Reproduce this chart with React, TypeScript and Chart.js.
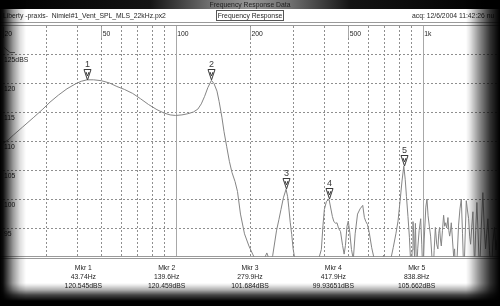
import React, { useEffect, useRef } from "react";
import { Chart, registerables } from "chart.js";

Chart.register(...registerables);

// ---- data ----
const freqHz = [
  20, 21, 22, 24, 26.5, 29, 31, 33.5, 36.3, 39.5, 41.5, 43.74, 46.5, 50, 54, 57.8, 62, 67, 72, 77.6,
  84, 90, 95, 100, 106, 112, 118, 123, 127, 131, 135, 139.6, 143, 147, 150, 153.9, 157, 161, 165, 169,
  174, 178, 183, 190, 198, 205, 212, 220, 228, 234, 240, 247, 256, 262, 267, 273, 279.9, 284, 287, 291,
  295, 299, 305, 315, 330, 345, 360, 375, 389, 395, 400, 408, 417.9, 426, 431, 437, 445, 450, 457, 465,
  474, 481, 487, 494, 500, 507, 515, 524, 533, 545, 558, 572, 581, 589, 598, 608, 622, 637, 655, 675,
  695, 715, 736, 760, 780, 795, 810, 825, 838.8, 850, 860, 872, 884, 893, 900, 907, 914, 920, 927, 935,
  945, 955, 968, 982, 992, 1003, 1015, 1030, 1041, 1052, 1065, 1077, 1090, 1101, 1113, 1126, 1140, 1153, 1162, 1171,
  1180, 1190, 1203, 1216, 1228, 1239, 1252, 1266, 1276, 1286, 1296, 1306, 1320, 1335, 1347, 1360, 1369, 1380, 1398, 1416,
  1434, 1450, 1469, 1485, 1502, 1518, 1535, 1550, 1564, 1580, 1598, 1610, 1623, 1640, 1658, 1680, 1700, 1725, 1753, 1775,
  1798, 1818, 1837, 1865, 1896, 1925, 1955, 1980, 2000,
];
const splDb = [
  109.6, 110.2, 111.0, 112.4, 114.0, 115.5, 116.7, 117.9, 119.0, 119.9, 120.3, 120.545, 120.55, 120.4, 120.0, 119.4, 118.9, 118.2, 117.3, 116.3,
  115.4, 114.8, 114.5, 114.4, 114.5, 114.7, 115.0, 115.5, 116.4, 117.7, 119.2, 120.459, 119.9, 118.6, 116.8, 114.1, 111.6, 109.0, 106.5, 104.6,
  103.0, 101.3, 97.4, 94.0, 91.9, 90.5, 89.2, 88.3, 89.6, 90.7, 89.4, 90.2, 94.5, 96.5, 98.2, 100.2, 101.684, 100.4, 98.6, 96.0,
  93.9, 91.4, 89.2, 88.0, 88.4, 87.8, 88.6, 88.9, 91.3, 95.5, 98.2, 99.6, 99.937, 98.1, 97.0, 96.1, 95.8, 95.9, 94.9, 94.4,
  92.0, 90.5, 92.0, 95.3, 96.2, 94.2, 91.3, 89.6, 94.0, 97.4, 98.3, 98.9, 96.8, 96.1, 95.6, 94.2, 91.6, 89.6, 88.2, 88.9,
  90.3, 88.4, 88.8, 91.6, 94.1, 96.2, 99.6, 103.1, 105.662, 103.4, 100.4, 97.0, 93.4, 89.6, 86.5, 91.2, 96.1, 94.0, 90.0, 95.8,
  87.0, 91.4, 94.6, 96.6, 92.1, 86.5, 93.1, 98.6, 100.0, 97.1, 95.2, 93.6, 90.1, 86.2, 91.1, 95.1, 92.2, 91.4, 94.1, 95.1,
  93.1, 91.9, 94.6, 97.2, 95.3, 95.9, 95.0, 96.8, 94.6, 93.6, 94.5, 95.9, 93.1, 90.1, 91.4, 87.1, 86.0, 90.2, 95.5, 98.3,
  100.0, 94.1, 86.4, 93.1, 99.7, 98.1, 96.6, 93.6, 92.2, 95.1, 97.8, 93.1, 88.1, 94.6, 99.4, 93.1, 87.0, 94.6, 101.1, 95.1,
  91.4, 94.1, 96.6, 91.1, 87.0, 92.6, 95.1, 91.2, 93.0,
];

const markerFreq = [43.74, 139.6, 279.9, 417.9, 838.8];
const markerDb = [120.545, 120.459, 101.684, 99.93651, 105.662];
const markerNames = ["Mkr 1", "Mkr 2", "Mkr 3", "Mkr 4", "Mkr 5"];
const markerFreqText = ["43.74Hz", "139.6Hz", "279.9Hz", "417.9Hz", "838.8Hz"];
const markerDbText = ["120.545dBS", "120.459dBS", "101.684dBS", "99.93651dBS", "105.662dBS"];

const xTickValues = [20, 50, 100, 200, 500, 1000];
const xTickLabels = ["20", "50", "100", "200", "500", "1k"];
const xMinorGrid = [30, 40, 50, 60, 70, 80, 90, 200, 300, 400, 500, 600, 700, 800, 900];
const xMajorGrid = [100, 1000];
const yTickValues = [125, 120, 115, 110, 105, 100, 95];
const yTickLabels = ["125dBS", "120", "115", "110", "105", "100", "95"];

const titleText = "Frequency Response Data";
const headerLeft = "Liberty -praxis-  Nimiel#1_Vent_SPL_MLS_22kHz.px2";
const headerCenter = "Frequency Response";
const headerRight = "acq: 12/6/2004 11:42:26 nu";

const FONT = "8px 'Liberation Sans', Arial, sans-serif";
const NUM_FONT = "9px 'Liberation Sans', Arial, sans-serif";
const SQUEEZE = 0.85;

function narrowText(ctx: CanvasRenderingContext2D, text: string, x: number, y: number) {
  ctx.save();
  ctx.translate(x, y);
  ctx.scale(SQUEEZE, 1);
  ctx.fillText(text, 0, 0);
  ctx.restore();
}

const framePlugin = {
  id: "frame",
  beforeDraw(chart: any) {
    const { ctx, chartArea: a, scales } = chart;
    const xs = scales.x;
    const ys = scales.y;
    const W = chart.width;
    const H = chart.height;
    ctx.save();
    ctx.fillStyle = "#ffffff";
    ctx.fillRect(0, 0, W, H);

    // title bar
    const g = ctx.createLinearGradient(0, 0, W, 0);
    g.addColorStop(0, "#000");
    g.addColorStop(0.3, "#141414");
    g.addColorStop(0.42, "#707070");
    g.addColorStop(0.5, "#959595");
    g.addColorStop(0.58, "#707070");
    g.addColorStop(0.7, "#141414");
    g.addColorStop(1, "#000");
    ctx.fillStyle = g;
    ctx.fillRect(0, 0, W, 9);
    ctx.font = FONT;
    ctx.textBaseline = "middle";
    ctx.textAlign = "center";
    ctx.fillStyle = "#1e1e1e";
    narrowText(ctx, titleText, W / 2, 4.5);

    // header row
    ctx.fillStyle = "#1e1e1e";
    ctx.textAlign = "left";
    narrowText(ctx, headerLeft, 3, 15.5);
    ctx.textAlign = "center";
    narrowText(ctx, headerCenter, W / 2, 15.5);
    ctx.strokeStyle = "#555";
    ctx.lineWidth = 1;
    ctx.strokeRect(216.5, 10.5, 67, 10);
    ctx.textAlign = "left";
    narrowText(ctx, headerRight, 412, 15.5);

    // separator lines
    ctx.strokeStyle = "#9a9a9a";
    ctx.beginPath();
    ctx.moveTo(0, 22.5); ctx.lineTo(W, 22.5);
    ctx.moveTo(0, a.top + 0.5); ctx.lineTo(W, a.top + 0.5);
    ctx.moveTo(0, a.bottom - 0.5); ctx.lineTo(W, a.bottom - 0.5);
    ctx.moveTo(0, a.bottom + 1.5); ctx.lineTo(W, a.bottom + 1.5);
    ctx.stroke();

    // dotted grid
    ctx.strokeStyle = "#8f8f8f";
    ctx.setLineDash([2, 2]);
    ctx.beginPath();
    for (const v of xMinorGrid) {
      const px = Math.round(xs.getPixelForValue(v)) + 0.5;
      ctx.moveTo(px, a.top + 1);
      ctx.lineTo(px, a.bottom - 1);
    }
    for (const v of yTickValues) {
      const py = Math.round(ys.getPixelForValue(v)) + 0.5;
      ctx.moveTo(a.left, py);
      ctx.lineTo(a.right, py);
    }
    ctx.stroke();
    ctx.setLineDash([]);

    // solid decade lines
    ctx.strokeStyle = "#a8a8a8";
    ctx.beginPath();
    for (const v of xMajorGrid) {
      const px = Math.round(xs.getPixelForValue(v)) + 0.5;
      ctx.moveTo(px, a.top + 1);
      ctx.lineTo(px, a.bottom - 1);
    }
    for (const v of xTickValues) {
      const px = Math.round(xs.getPixelForValue(v)) + 0.5;
      ctx.moveTo(px, a.top + 2);
      ctx.lineTo(px, a.top + 13);
    }
    ctx.stroke();

    // reference mark
    ctx.strokeStyle = "#777";
    ctx.beginPath();
    ctx.moveTo(a.left + 1, 47.5);
    ctx.lineTo(a.left + 7, 52.5);
    ctx.lineTo(a.left + 12, 52.5);
    ctx.stroke();

    // x tick labels
    ctx.fillStyle = "#222";
    ctx.font = FONT;
    ctx.textAlign = "left";
    ctx.textBaseline = "middle";
    xTickValues.forEach((v, i) => {
      const px = xs.getPixelForValue(v);
      narrowText(ctx, xTickLabels[i], px + 1.5, a.top + 9);
    });
    // y tick labels
    ctx.textBaseline = "top";
    yTickValues.forEach((v, i) => {
      const py = ys.getPixelForValue(v);
      narrowText(ctx, yTickLabels[i], a.left + 1, py + 1.5);
    });

    // marker table
    ctx.textAlign = "center";
    ctx.textBaseline = "middle";
    ctx.fillStyle = "#222";
    markerNames.forEach((n, i) => {
      const cx = (W / 6) * (i + 1);
      narrowText(ctx, n, cx, 268);
      narrowText(ctx, markerFreqText[i], cx, 277);
      narrowText(ctx, markerDbText[i], cx, 286);
    });
    ctx.restore();
  },
  afterDatasetsDraw(chart: any) {
    const { ctx, scales } = chart;
    ctx.save();
    ctx.strokeStyle = "#3a3a3a";
    ctx.fillStyle = "#3a3a3a";
    ctx.lineWidth = 1;
    ctx.font = NUM_FONT;
    ctx.textAlign = "center";
    ctx.textBaseline = "middle";
    markerFreq.forEach((f, i) => {
      const px = Math.round(scales.x.getPixelForValue(f)) + 0.5;
      const py = Math.round(scales.y.getPixelForValue(markerDb[i]));
      ctx.beginPath();
      ctx.moveTo(px - 3.5, py - 10.5);
      ctx.lineTo(px + 3.5, py - 10.5);
      ctx.lineTo(px, py);
      ctx.closePath();
      ctx.moveTo(px - 1.5, py - 8);
      ctx.lineTo(px, py - 4);
      ctx.lineTo(px + 1.5, py - 8);
      ctx.stroke();
      ctx.fillText(String(i + 1), px, py - 15);
    });
    ctx.restore();
  },
};

export default function App() {
  const ref = useRef<HTMLCanvasElement | null>(null);
  useEffect(() => {
    document.body.style.margin = "0";
    if (!ref.current) return;
    const points = freqHz.map((f, i) => ({ x: f, y: splDb[i] }));
    const chart = new Chart(ref.current, {
      type: "line",
      data: {
        datasets: [
          {
            data: points,
            borderColor: "#858585",
            borderWidth: 1,
            pointRadius: 0,
            tension: 0,
            fill: false,
          },
        ],
      },
      options: {
        animation: false,
        responsive: false,
        devicePixelRatio: 1,
        layout: { padding: { left: 3, right: 3, top: 25, bottom: 49 } },
        plugins: { legend: { display: false }, tooltip: { enabled: false } },
        events: [],
        scales: {
          x: { type: "logarithmic", min: 20, max: 2000, display: false },
          y: { type: "linear", min: 90, max: 130, display: false },
        },
      },
      plugins: [framePlugin],
    });
    return () => chart.destroy();
  }, []);

  const vignette = [
    "linear-gradient(to right, rgba(0,0,0,1) 0px, rgba(0,0,0,0.95) 3px, rgba(0,0,0,0.73) 7px, rgba(0,0,0,0.4) 13px, rgba(0,0,0,0.13) 20px, rgba(0,0,0,0) 26px)",
    "linear-gradient(to left, rgba(0,0,0,1) 0px, rgba(0,0,0,0.95) 3px, rgba(0,0,0,0.8) 10px, rgba(0,0,0,0.47) 20px, rgba(0,0,0,0.1) 30px, rgba(0,0,0,0) 34px)",
    "linear-gradient(to top, rgba(0,0,0,1) 0px, rgba(0,0,0,1) 5px, rgba(0,0,0,0.73) 11px, rgba(0,0,0,0.33) 16px, rgba(0,0,0,0.07) 21px, rgba(0,0,0,0) 23px)",
  ].join(", ");

  return (
    <div style={{ position: "fixed", left: 0, top: 0, width: 500, height: 306 }}>
      <canvas ref={ref} width={500} height={306} style={{ display: "block", width: 500, height: 306 }} />
      <div
        style={{
          position: "absolute",
          left: 0,
          top: 0,
          width: 500,
          height: 306,
          pointerEvents: "none",
          background: vignette,
        }}
      />
    </div>
  );
}
